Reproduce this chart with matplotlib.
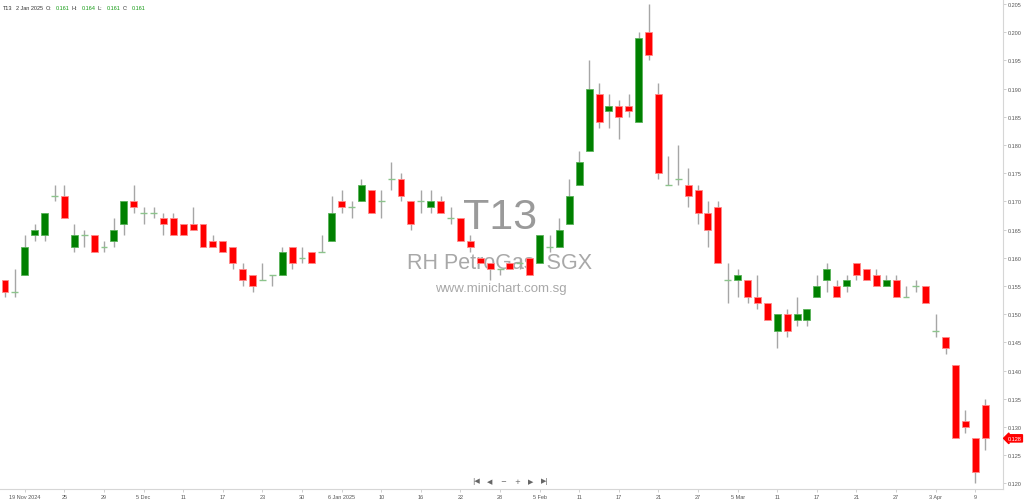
import numpy as np
import matplotlib
matplotlib.use("Agg")
from matplotlib import pyplot as plt

plt.rcParams['font.family'] = ['Liberation Sans', 'DejaVu Sans']

# daily OHLC, 15 Nov 2024 .. 10 Apr 2025 (trading days only)
opens = [0.156, 0.154, 0.157, 0.164, 0.164, 0.171, 0.171, 0.162, 0.164, 0.164,
         0.162, 0.163, 0.166, 0.170, 0.168, 0.168, 0.167, 0.167, 0.166, 0.166,
         0.166, 0.163, 0.163, 0.162, 0.158, 0.157, 0.156, 0.157, 0.157, 0.162,
         0.160, 0.161, 0.161, 0.163, 0.170, 0.169, 0.170, 0.172, 0.170, 0.174,
         0.174, 0.170, 0.170, 0.169, 0.170, 0.167, 0.167, 0.163, 0.160, 0.159,
         0.158, 0.159, 0.159, 0.160, 0.159, 0.162, 0.162, 0.166, 0.173, 0.179,
         0.189, 0.186, 0.187, 0.187, 0.184, 0.200, 0.189, 0.173, 0.174, 0.173,
         0.172, 0.168, 0.169, 0.156, 0.156, 0.156, 0.153, 0.152, 0.147, 0.150,
         0.149, 0.149, 0.153, 0.156, 0.155, 0.155, 0.159, 0.158, 0.157, 0.155,
         0.156, 0.153, 0.155, 0.155, 0.147, 0.146, 0.141, 0.131, 0.128, 0.134]
highs = [0.156, 0.158, 0.164, 0.166, 0.168, 0.173, 0.173, 0.166, 0.165, 0.164,
         0.163, 0.167, 0.170, 0.173, 0.169, 0.169, 0.168, 0.168, 0.166, 0.169,
         0.166, 0.164, 0.163, 0.162, 0.159, 0.157, 0.159, 0.157, 0.162, 0.162,
         0.162, 0.161, 0.164, 0.171, 0.172, 0.170, 0.174, 0.172, 0.172, 0.177,
         0.175, 0.170, 0.172, 0.172, 0.171, 0.169, 0.167, 0.164, 0.160, 0.159,
         0.158, 0.159, 0.160, 0.160, 0.164, 0.164, 0.167, 0.174, 0.179, 0.195,
         0.191, 0.189, 0.188, 0.189, 0.200, 0.205, 0.191, 0.178, 0.180, 0.176,
         0.173, 0.170, 0.170, 0.159, 0.158, 0.156, 0.157, 0.152, 0.150, 0.151,
         0.153, 0.151, 0.157, 0.159, 0.156, 0.157, 0.159, 0.158, 0.158, 0.157,
         0.157, 0.155, 0.156, 0.155, 0.150, 0.146, 0.141, 0.133, 0.128, 0.135]
lows = [0.153, 0.153, 0.157, 0.163, 0.163, 0.170, 0.167, 0.161, 0.162, 0.161,
        0.161, 0.162, 0.164, 0.168, 0.166, 0.167, 0.164, 0.164, 0.164, 0.165,
        0.162, 0.162, 0.161, 0.158, 0.155, 0.154, 0.156, 0.155, 0.157, 0.158,
        0.159, 0.159, 0.161, 0.163, 0.168, 0.167, 0.170, 0.168, 0.167, 0.172,
        0.170, 0.165, 0.168, 0.168, 0.168, 0.166, 0.163, 0.161, 0.159, 0.156,
        0.157, 0.158, 0.158, 0.157, 0.159, 0.161, 0.162, 0.166, 0.173, 0.179,
        0.183, 0.183, 0.181, 0.185, 0.184, 0.195, 0.174, 0.173, 0.173, 0.169,
        0.166, 0.162, 0.159, 0.152, 0.153, 0.152, 0.151, 0.149, 0.144, 0.146,
        0.148, 0.148, 0.153, 0.154, 0.153, 0.154, 0.156, 0.156, 0.155, 0.155,
        0.153, 0.153, 0.154, 0.152, 0.146, 0.143, 0.128, 0.129, 0.120, 0.126]
closes = [0.154, 0.154, 0.162, 0.165, 0.168, 0.171, 0.167, 0.164, 0.164, 0.161,
          0.162, 0.165, 0.170, 0.169, 0.168, 0.168, 0.166, 0.164, 0.164, 0.165,
          0.162, 0.162, 0.161, 0.159, 0.156, 0.155, 0.156, 0.157, 0.161, 0.159,
          0.160, 0.159, 0.161, 0.168, 0.169, 0.169, 0.173, 0.168, 0.170, 0.174,
          0.171, 0.166, 0.170, 0.170, 0.168, 0.167, 0.163, 0.162, 0.159, 0.158,
          0.158, 0.158, 0.159, 0.157, 0.164, 0.162, 0.165, 0.171, 0.177, 0.190,
          0.184, 0.187, 0.185, 0.186, 0.199, 0.196, 0.175, 0.173, 0.174, 0.171,
          0.168, 0.165, 0.159, 0.156, 0.157, 0.153, 0.152, 0.149, 0.150, 0.147,
          0.150, 0.151, 0.155, 0.158, 0.153, 0.156, 0.157, 0.156, 0.155, 0.156,
          0.153, 0.153, 0.155, 0.152, 0.147, 0.144, 0.128, 0.130, 0.122, 0.128]

tick_idx = list(range(2, 100, 4))
tick_labels = ['19 Nov 2024', '25', '29', '5 Dec', '11', '17', '23', '30',
               '6 Jan 2025', '10', '16', '22', '28', '5 Feb', '11', '17', '21',
               '27', '5 Mar', '11', '17', '21', '27', '3 Apr', '9']
price_ticks = np.round(np.arange(0.120, 0.2051, 0.005), 3)
last_price = closes[-1]

o = np.array(opens); h = np.array(highs); l = np.array(lows); c = np.array(closes)
x = np.arange(len(o))

W, H = 1024, 502
fig = plt.figure(figsize=(W / 100, H / 100), dpi=100)
ax = fig.add_axes([0, 12 / H, 1003 / W, 490 / H])

# watermark
ax.text(0.499, 0.555, 'T13', transform=ax.transAxes, ha='center', va='center',
        fontsize=31, color='#9a9a9a', zorder=0)
ax.text(0.4985, 0.462, 'RH PetroGas  SGX', transform=ax.transAxes, ha='center',
        va='center', fontsize=15.5, color='#a8a8a8', zorder=0)
ax.text(0.499, 0.41, 'www.minichart.com.sg', transform=ax.transAxes,
        ha='center', va='center', fontsize=9.5, color='#a8a8a8', zorder=0)

# wicks
ax.vlines(x, l, h, color='#a6a6a6', linewidth=1.0, zorder=2)

up = c > o
dn = c < o
eq = c == o
bw = 0.7
ax.bar(x[up], c[up] - o[up], bottom=o[up], width=bw, color='#008000',
       edgecolor='#59b259', linewidth=0.6, zorder=3)
ax.bar(x[dn], o[dn] - c[dn], bottom=c[dn], width=bw, color='#ff0000',
       edgecolor='#ff8a8a', linewidth=0.6, zorder=3)
ax.hlines(c[eq], x[eq] - bw / 2, x[eq] + bw / 2, color='#8cc48c',
          linewidth=1.0, zorder=3)

ax.set_xlim(-0.505, 100.8)
ax.set_ylim(0.11902, 0.20589)

ax.yaxis.tick_right()
ax.set_yticks(price_ticks)
ax.set_yticklabels([f'{v:.3f}' for v in price_ticks])
ax.set_xticks(tick_idx)
ax.set_xticklabels(tick_labels)
ax.tick_params(axis='both', labelsize=4, colors='#c8c8c8', labelcolor='#555555',
               length=2, width=0.6, pad=1.5)

for s in ['top', 'left']:
    ax.spines[s].set_visible(False)
for s in ['right', 'bottom']:
    ax.spines[s].set_color('#d6d6d6')
    ax.spines[s].set_linewidth(0.8)

# last price tag
ax.annotate(f'{last_price:.3f}', xy=(1.0, last_price),
            xycoords=('axes fraction', 'data'), xytext=(3.2, 0),
            textcoords='offset points', ha='left', va='center', fontsize=4,
            color='white',
            bbox=dict(boxstyle='larrow,pad=0.2', fc='#ff0000', ec='#ff0000'))

# header line
def ftext(px, py, s, col='#333333'):
    fig.text(px / W, 1 - py / H, s, fontsize=4, color=col, va='center', ha='left')

ftext(3, 8, 'T13')
ftext(16, 8, '2 Jan 2025')
ftext(46, 8, 'O:')
ftext(56, 8, '0.161', '#129a12')
ftext(72, 8, 'H:')
ftext(82, 8, '0.164', '#129a12')
ftext(98, 8, 'L:')
ftext(107, 8, '0.161', '#129a12')
ftext(123, 8, 'C:')
ftext(132, 8, '0.161', '#129a12')

# navigation buttons
for px, s in zip([476, 490, 503, 517, 531, 545], ['|◀', '◀', '−', '+', '▶', '▶|']):
    fig.text(px / W, 1 - 482 / H, s, fontsize=5, color='#666666',
             ha='center', va='center', family='DejaVu Sans')

fig.savefig('out.png', dpi=100)
